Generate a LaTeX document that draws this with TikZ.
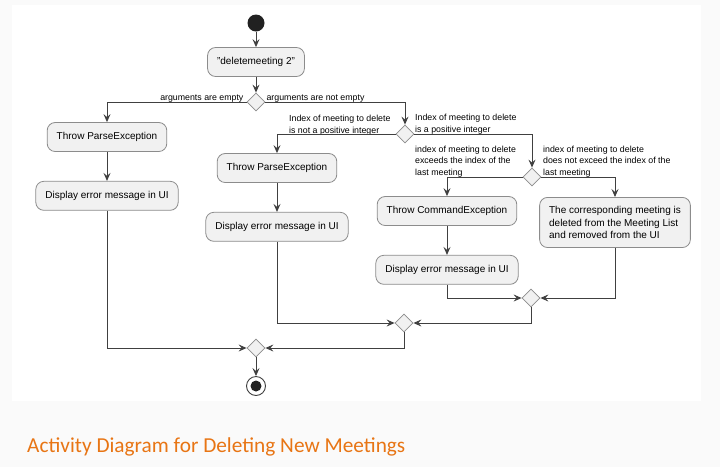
\documentclass[tikz,border=0pt]{standalone}
\usepackage{fontspec}
\setmainfont{Liberation Sans}
\newfontfamily\captionfont{Carlito}
\usetikzlibrary{shapes.geometric,arrows.meta,positioning}
\definecolor{actfill}{HTML}{F1F1F1}
\definecolor{actline}{HTML}{8C8C8C}
\definecolor{flowline}{HTML}{404040}
\definecolor{pagebg}{HTML}{FAFAFA}
\definecolor{captionorange}{HTML}{E87514}

\begin{document}
\begin{tikzpicture}[x=1pt,y=-1pt]
	\tikzset{act/.style={draw=actline,fill=actfill,line width=0.8pt,rounded corners=8pt,
			minimum height=29pt,inner xsep=9.5pt,align=center,font=\fontsize{10}{12.4}\selectfont},
		merge/.style={diamond,draw=actline,fill=actfill,line width=0.8pt,minimum width=18pt,
			minimum height=18pt,inner sep=0pt},
		flow/.style={draw=flowline,line width=0.9pt,-{Stealth[length=8pt,width=7pt,inset=3pt]}},
		guard/.style={inner sep=0pt,align=left,font=\fontsize{8.8}{11.3}\selectfont}}
	\fill[pagebg] (0,0) rectangle (720,467);
	\fill[white] (12,5) rectangle (701,401);
	\useasboundingbox (0,0) rectangle (720,467);
	\node[circle,fill=black!87,minimum size=17pt,inner sep=0pt] (start) at (256,23) {};
	\node[act] (cmd) at (256,62) {"deletemeeting 2"};
	\node[merge] (d1) at (256,102) {};
	\node[act] (pe1) at (107,137) {Throw ParseException};
	\node[act,below=29pt of pe1] (de1) {Display error message in UI};
	\node[merge] (d2) at (405,134) {};
	\node[act] (pe2) at (277,168) {Throw ParseException};
	\node[act,below=29pt of pe2] (de2) {Display error message in UI};
	\node[merge] (d3) at (532,177) {};
	\node[act] (ce) at (447,211) {Throw CommandException};
	\node[act,below=29pt of ce] (de3) {Display error message in UI};
	\node[act,anchor=north,align=left,inner ysep=9pt] (ok) at (615,197)
		{The corresponding meeting is\\deleted from the Meeting List\\and removed from the UI};
	\node[merge] (m1) at (531,298) {};
	\node[merge] (m2) at (404,323) {};
	\node[merge] (m3) at (256,348) {};
	\node[circle,draw=flowline,fill=white,line width=0.9pt,minimum size=19pt,inner sep=0pt] (stop) at (256,386) {};
	\node[circle,fill=black!87,minimum size=11pt,inner sep=0pt] (stopdot) at (stop) {};
	\node[guard,anchor=base east] (g1) at ([xshift=-3pt,yshift=2pt]d1.west) {arguments are empty};
	\node[guard,anchor=base west] (g2) at ([xshift=1pt,yshift=2pt]d1.east) {arguments are not empty};
	\node[guard,anchor=base west] (g3) at (289,133) {Index of meeting to delete\\is not a positive integer};
	\node[guard,anchor=base west] (g4) at (415,132) {Index of meeting to delete\\is a positive integer};
	\node[guard,anchor=base west] (g5) at (415,175) {index of meeting to delete\\exceeds the index of the\\last meeting};
	\node[guard,anchor=base west] (g6) at (543,175) {index of meeting to delete\\does not exceed the index of the\\last meeting};
	\node[anchor=base west,inner sep=0pt,text=captionorange,font=\captionfont\fontsize{21.3}{25}\selectfont] (caption) at (27,452)
		{Activity Diagram for Deleting New Meetings};
	\draw[flow] (start) -- (cmd);
	\draw[flow] (cmd) -- (d1);
	\draw[flow] (d1.west) -| (pe1);
	\draw[flow] (pe1) -- (de1);
	\draw[flow] (d1.east) -| (d2);
	\draw[flow] (d2.west) -| (pe2);
	\draw[flow] (pe2) -- (de2);
	\draw[flow] (d2.east) -| (d3);
	\draw[flow] (d3.west) -| (ce);
	\draw[flow] (ce) -- (de3);
	\draw[flow] (d3.east) -| (ok);
	\draw[flow] (de3) |- (m1);
	\draw[flow] (ok) |- (m1);
	\draw[flow] (de2) |- (m2);
	\draw[flow] (m1) |- (m2);
	\draw[flow] (de1) |- (m3);
	\draw[flow] (m2) |- (m3);
	\draw[flow] (m3) -- (stop);
\end{tikzpicture}
\end{document}
